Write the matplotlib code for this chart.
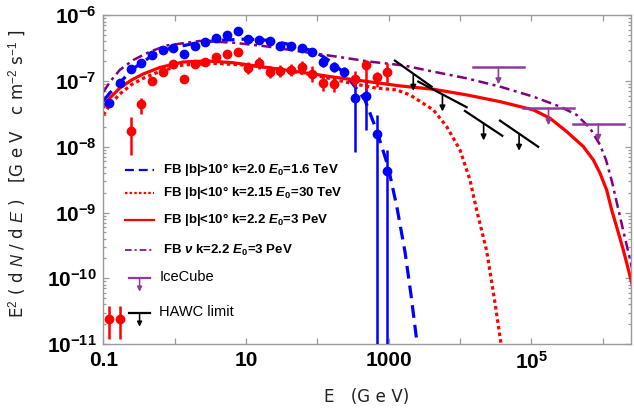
"""Fermi bubbles gamma / neutrino spectra with IceCube and HAWC limits."""
import matplotlib
matplotlib.use("Agg")
import matplotlib.pyplot as plt
import numpy as np
from matplotlib.ticker import FixedLocator, NullFormatter, FuncFormatter

# ----- data (E in GeV, E^2 dN/dE in GeV cm^-2 s^-1) -----
E_blue = [0.120, 0.170, 0.240, 0.339, 0.479, 0.676, 0.955, 1.35, 1.905, 2.69, 3.80,
          5.37, 7.59, 10.7, 15.1, 21.4, 30.2, 42.7, 60.3, 85.1, 120, 170, 240,
          339, 479, 676, 955]
F_blue = [4.6e-8, 9.3e-8, 1.53e-7, 1.9e-7, 2.47e-7, 2.94e-7, 3.13e-7, 2.58e-7,
          3.45e-7, 3.97e-7, 4.57e-7, 4.97e-7, 5.77e-7, 4.31e-7, 4.14e-7, 4.0e-7,
          3.41e-7, 3.45e-7, 3.15e-7, 2.77e-7, 1.97e-7, 1.66e-7, 1.39e-7, 5.48e-8,
          6.0e-8, 1.55e-8, 4.3e-9]
lo_blue = F_blue[:20] + [1.65e-7, 1.39e-7, 1.16e-7, 8.4e-9, 1.8e-8, 1e-12, 1e-12]
hi_blue = F_blue[:20] + [2.35e-7, 1.98e-7, 1.66e-7, 1.04e-7, 1.04e-7, 3.05e-8, 9e-9]

E_red = [0.120, 0.170, 0.240, 0.339, 0.479, 0.676, 0.955, 1.35, 1.905, 2.69, 3.80,
         5.37, 7.59, 10.7, 15.1, 21.4, 30.2, 42.7, 60.3, 85.1, 120, 170,
         339, 479, 676, 955]
F_red = [2.4e-11, 2.4e-11, 1.76e-8, 4.43e-8, 1.01e-7, 1.37e-7, 1.80e-7, 1.09e-7,
         1.80e-7, 1.97e-7, 2.30e-7, 2.55e-7, 2.74e-7, 1.57e-7, 1.90e-7, 1.39e-7,
         1.42e-7, 1.47e-7, 1.66e-7, 1.27e-7, 9.3e-8, 8.9e-8, 1.08e-7, 1.76e-7,
         1.14e-7, 1.36e-7]
lo_red = [1.2e-11, 1.2e-11, 7.5e-9, 3.2e-8, 9.2e-8, 1.25e-7, 1.64e-7, 9.9e-8,
          1.64e-7, 1.79e-7, 2.09e-7, 2.32e-7, 2.49e-7, 1.28e-7, 1.54e-7, 1.13e-7,
          1.15e-7, 1.19e-7, 1.35e-7, 9.6e-8, 7.0e-8, 6.7e-8, 8.2e-8, 7.3e-8,
          8.2e-8, 8.7e-8]
hi_red = [3.8e-11, 3.8e-11, 2.88e-8, 5.5e-8, 1.11e-7, 1.51e-7, 1.98e-7, 1.2e-7,
          1.98e-7, 2.17e-7, 2.53e-7, 2.8e-7, 3.01e-7, 1.93e-7, 2.34e-7, 1.71e-7,
          1.75e-7, 1.81e-7, 2.04e-7, 1.68e-7, 1.23e-7, 1.17e-7, 1.43e-7, 2.1e-7,
          1.39e-7, 1.88e-7]

# model curves, sampled from the figure
E_m1 = [0.1, 0.123, 0.17, 0.249, 0.344, 0.5, 0.857, 1.92, 3.87, 10.6, 21.6, 43.6,
        86, 121, 171, 244, 348, 465, 679, 977, 1306, 1693, 2056, 2495, 2750]
F_m1 = [4.99e-8, 6.6e-8, 9.4e-8, 1.48e-7, 1.9e-7, 2.5e-7, 3.15e-7, 3.75e-7,
        4.14e-7, 4.36e-7, 4.14e-7, 3.54e-7, 2.87e-7, 2.35e-7, 1.82e-7, 1.28e-7,
        7.85e-8, 5.16e-8, 1.75e-8, 5.1e-9, 1.2e-9, 2.53e-10, 5.6e-11, 1.05e-11,
        4.9e-12]

E_m2 = [0.1, 0.123, 0.17, 0.249, 0.361, 0.62, 1.32, 3.87, 11.4, 33, 98, 286, 643,
        1294, 1990, 4230, 6500, 10000, 13800, 17100, 23700, 31000, 37200, 40100]
F_m2 = [3.05e-8, 4.34e-8, 6.37e-8, 8.87e-8, 1.1e-7, 1.4e-7, 1.76e-7, 1.85e-7,
        1.73e-7, 1.48e-7, 1.2e-7, 9.35e-8, 7.85e-8, 7.33e-8, 6.15e-8, 3.64e-8,
        2.03e-8, 8.97e-9, 3.14e-9, 1.1e-9, 2.6e-10, 4.2e-11, 1.1e-11, 5.8e-12]

E_m3 = [0.1, 0.123, 0.17, 0.249, 0.361, 0.62, 1.32, 2.8, 6.55, 19.4, 57, 166, 491,
        1440, 4230, 12400, 36400, 106700, 183000, 314000, 536000, 741000, 920000,
        1.14e6, 1.34e6, 1.59e6, 1.95e6, 2.34e6, 2.75e6]
F_m3 = [4.04e-8, 5.53e-8, 7.85e-8, 1.04e-7, 1.28e-7, 1.61e-7, 1.95e-7, 2.02e-7,
        1.9e-7, 1.61e-7, 1.37e-7, 1.15e-7, 9.86e-8, 8.43e-8, 7.5e-8, 6.15e-8,
        4.86e-8, 3.64e-8, 2.72e-8, 1.70e-8, 1.01e-8, 6.32e-9, 3.97e-9, 2.21e-9,
        1.1e-9, 5.86e-10, 2.71e-10, 1.26e-10, 6.2e-11]

E_nu = [0.1, 0.123, 0.17, 0.262, 0.449, 0.769, 2.25, 6.6, 19.4, 57, 187, 547, 1600,
        4230, 12400, 36400, 106700, 253000, 434000, 666000, 920000, 1.117e6,
        1.356e6, 1.644e6, 1.995e6, 2.42e6, 2.75e6]
F_nu = [6.82e-8, 9.7e-8, 1.48e-7, 2.09e-7, 2.8e-7, 3.47e-7, 4.07e-7, 3.83e-7,
        3.36e-7, 2.82e-7, 2.35e-7, 1.97e-7, 1.73e-7, 1.39e-7, 1.1e-7, 8.22e-8,
        5.79e-8, 4.08e-8, 3.05e-8, 1.92e-8, 1.07e-8, 6.32e-9, 2.93e-9, 1.18e-9,
        4.74e-10, 1.98e-10, 1.05e-10]

# IceCube upper limits (flat) and HAWC limits (sloped segments)
ic_Elo = [15000, 76000, 380000]
ic_Ehi = [80000, 400000, 2.0e6]
ic_F = [1.62e-7, 3.86e-8, 2.23e-8]

hawc_Elo = [1225, 2600, 11750, 36400]
hawc_Ehi = [4000, 12400, 39200, 125000]
hawc_Flo = [2.04e-7, 9.8e-8, 3.5e-8, 2.5e-8]
hawc_Fhi = [8.2e-8, 4.0e-8, 1.47e-8, 1.0e-8]

x_ticks = [0.1, 10, 1000, 1e5]
x_ticklabels = ["0.1", "10", "1000", r"$\mathbf{10^5}$"]
y_decades = [-11, -10, -9, -8, -7, -6]

legend_labels = [r"FB |b|>10° k=2.0 $\mathbfit{E}_\mathbf{0}$=1.6 TeV",
                 r"FB |b|<10° k=2.15 $\mathbfit{E}_\mathbf{0}$=30 TeV",
                 r"FB |b|<10° k=2.2 $\mathbfit{E}_\mathbf{0}$=3 PeV",
                 r"FB $\mathbfit{\nu}$ k=2.2 $\mathbfit{E}_\mathbf{0}$=3 PeV"]

# ----- style -----
plt.rcParams.update({
    "font.family": "Liberation Sans",
    "mathtext.fontset": "custom",
    "mathtext.rm": "Liberation Sans",
    "mathtext.it": "Liberation Sans:italic",
    "mathtext.bf": "Liberation Sans:bold",
    "mathtext.bfit": "Liberation Sans:bold:italic",
})
BLUE, RED, PURPLE, ICE = "#0000ff", "#ff0000", "#800080", "#8e3a9e"
GREY = "#9a9a9a"
ARROW_DEX = 0.26
SP = "\u2004"  # third-em space, for the letter-spaced axis labels

fig = plt.figure(figsize=(6.34, 4.13), dpi=100)
ax = fig.add_axes([0.1632, 0.1671, 0.8316, 0.7959])

ax.plot(E_m1, F_m1, color=BLUE, lw=2.3, dashes=(4, 2.2))
ax.plot(E_m2, F_m2, color=RED, lw=2.3, dashes=(1.1, 1.0))
ax.plot(E_m3, F_m3, color=RED, lw=2.3)
ax.plot(E_nu, F_nu, color=PURPLE, lw=1.8, dashes=(4, 1.8, 1.2, 1.8))

for E, F, lo, hi, c in [(E_blue, F_blue, lo_blue, hi_blue, BLUE),
                        (E_red, F_red, lo_red, hi_red, RED)]:
    F = np.array(F)
    yerr = [F - np.array(lo), np.array(hi) - F]
    ax.errorbar(E, F, yerr=yerr, fmt="o", color=c, ms=6, elinewidth=1.8,
                capsize=0, zorder=3)

# IceCube limits
for e0, e1, f in zip(ic_Elo, ic_Ehi, ic_F):
    ax.plot([e0, e1], [f, f], color=ICE, lw=1.8)
    em = np.sqrt(e0 * e1)
    ax.annotate("", xy=(em, f * 10 ** -ARROW_DEX), xytext=(em, f),
                arrowprops=dict(arrowstyle="-|>", color=ICE, lw=1.2,
                                mutation_scale=8, shrinkA=0, shrinkB=0))

# HAWC limits
for e0, e1, f0, f1 in zip(hawc_Elo, hawc_Ehi, hawc_Flo, hawc_Fhi):
    ax.plot([e0, e1], [f0, f1], color="k", lw=1.6)
    em, fm = np.sqrt(e0 * e1), np.sqrt(f0 * f1)
    ax.annotate("", xy=(em, fm * 10 ** -ARROW_DEX), xytext=(em, fm),
                arrowprops=dict(arrowstyle="-|>", color="k", lw=1.2,
                                mutation_scale=8, shrinkA=0, shrinkB=0))

ax.set_xscale("log")
ax.set_yscale("log")
ax.set_xlim(0.1, 2.48e6)
ax.set_ylim(1e-11, 1e-6)

# ticks: fixed locators so nothing sits outside the frame
ax.xaxis.set_major_locator(FixedLocator(x_ticks))
ax.xaxis.set_minor_locator(FixedLocator([1, 100, 1e4, 1e6]))
ax.xaxis.set_minor_formatter(NullFormatter())
ax.set_xticklabels(x_ticklabels)
ax.yaxis.set_major_locator(FixedLocator([10.0 ** d for d in y_decades]))
ax.yaxis.set_minor_locator(FixedLocator(
    [m * 10.0 ** d for d in y_decades[:-1] for m in range(2, 10)]))
ax.yaxis.set_minor_formatter(NullFormatter())
ax.yaxis.set_major_formatter(FuncFormatter(
    lambda v, _: r"$\mathbf{10^{%d}}$" % round(np.log10(v))))
ax.tick_params(which="both", direction="in", top=True, right=True, color=GREY,
               labelsize=15, width=0.9)
ax.tick_params(which="major", length=4.5, pad=5)
ax.tick_params(axis="y", which="minor", length=2.5)
ax.tick_params(axis="x", which="minor", length=4.5)
for lab in ax.get_xticklabels() + ax.get_yticklabels():
    lab.set_fontweight("bold")
for s in ax.spines.values():
    s.set_color(GREY)
    s.set_linewidth(1.0)

xlab = "E" + SP * 3 + "(" + SP.join("GeV") + ")"
ylab = ("E$^2$" + SP + "(" + SP + "d" + SP + r"$\it{N}$" + SP + "/" + SP + "d"
        + SP + r"$\it{E}$" + SP + ")" + SP * 3 + "[" + SP.join("GeV")
        + SP * 3 + "c" + SP + r"m$^{-2}$" + SP + r"s$^{-1}$" + SP + "]")
ax.set_xlabel(xlab, fontsize=12, family="DejaVu Sans", color="#222222")
ax.xaxis.set_label_coords(0.5, -0.134)
ax.set_ylabel(ylab, fontsize=12, family="DejaVu Sans", color="#222222")
ax.yaxis.set_label_coords(-0.143, 0.519)

# legend drawn by hand, Mathematica style
tr = ax.transAxes
rows = [0.5294, 0.4603, 0.3772, 0.2860]
styles = [dict(color=BLUE, lw=1.6, dashes=(4, 2.2)),
          dict(color=RED, lw=1.6, dashes=(1.1, 1.0)),
          dict(color=RED, lw=1.6),
          dict(color=PURPLE, lw=1.2, dashes=(4, 1.8, 1.2, 1.8))]
for yy, st, lab in zip(rows, styles, legend_labels):
    ax.plot([0.0408, 0.0958], [yy, yy], transform=tr, **st)
    ax.text(0.1129, yy, lab, transform=tr, fontsize=9.5, fontweight="bold",
            va="center", ha="left")
for yy, c, lab in [(0.1999, ICE, "IceCube"), (0.0934, "k", "HAWC limit")]:
    ax.plot([0.0489, 0.0882], [yy, yy], transform=tr, color=c, lw=1.6)
    ax.annotate("", xy=(0.0685, yy - 0.041), xytext=(0.0685, yy), xycoords=tr,
                textcoords=tr, arrowprops=dict(arrowstyle="-|>", color=c, lw=1.1,
                                               mutation_scale=7, shrinkA=0, shrinkB=0))
    ax.text(0.1058, yy + 0.005, lab, transform=tr, fontsize=10.5, va="center",
            ha="left")

fig.savefig("out.png", dpi=100)
